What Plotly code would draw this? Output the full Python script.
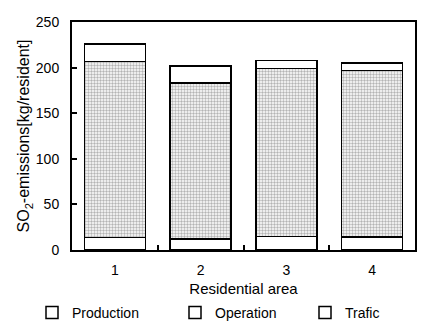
import plotly.graph_objects as go

areas = ["1", "2", "3", "4"]
production = [13.5, 12, 15, 14]
operation = [193, 171, 184, 183]
traffic = [19.5, 19, 9, 8]
legend_names = ["Production", "Operation", "Trafic"]

fig = go.Figure()
line = dict(color="black", width=1.5)
fig.add_trace(go.Bar(x=areas, y=production, name="Production",
                     marker=dict(color="white", line=line), showlegend=False))
fig.add_trace(go.Bar(x=areas, y=operation, name="Operation",
                     marker=dict(color="white", line=line,
                                 pattern=dict(shape=".", fgcolor="#6a6a6a", bgcolor="white",
                                              size=3, solidity=0.5, fillmode="overlay")),
                     showlegend=False))
fig.add_trace(go.Bar(x=areas, y=traffic, name="Traffic",
                     marker=dict(color="white", line=line), showlegend=False))

# legend entries (all drawn as open squares in the original), one legend each
legend_ids = ["legend", "legend2", "legend3"]
for nm, lid in zip(legend_names, legend_ids):
    fig.add_trace(go.Bar(x=[None], y=[None], name=nm, legend=lid,
                         marker=dict(color="white", line=dict(color="black", width=1.5))))

font = "Liberation Sans, Arial, sans-serif"
leg_common = dict(orientation="h", y=0.043, yref="container", yanchor="middle",
                  xanchor="left", xref="container",
                  itemwidth=30, font=dict(size=14), bgcolor="rgba(0,0,0,0)")
fig.update_layout(
    barmode="stack",
    bargap=0.29,
    width=421, height=327,
    margin=dict(l=72, r=6, t=22, b=77, autoexpand=False),
    paper_bgcolor="white", plot_bgcolor="white",
    font=dict(family=font, size=14, color="black"),
    legend=dict(x=32 / 421, **leg_common),
    legend2=dict(x=175 / 421, **leg_common),
    legend3=dict(x=305 / 421, **leg_common),
    xaxis=dict(type="category", showline=True, linecolor="black", linewidth=2, mirror=True,
               ticks="inside", tickson="boundaries", ticklen=5, tickwidth=2, tickcolor="black",
               ticklabelstandoff=6,
               title=dict(text="Residential area", standoff=11, font=dict(size=15)),
               showgrid=False, zeroline=False),
    yaxis=dict(range=[0, 250], tickvals=[0, 50, 100, 150, 200, 250], showline=True,
               linecolor="black", linewidth=2, mirror=True, ticks="inside", ticklen=5,
               tickwidth=2, tickcolor="black", showgrid=False, zeroline=False,
               ticklabelstandoff=8,
               title=dict(text="SO<sub>2</sub>-emissions[kg/resident]", standoff=2,
                          font=dict(size=16))),
)

fig.write_html("out.html")
